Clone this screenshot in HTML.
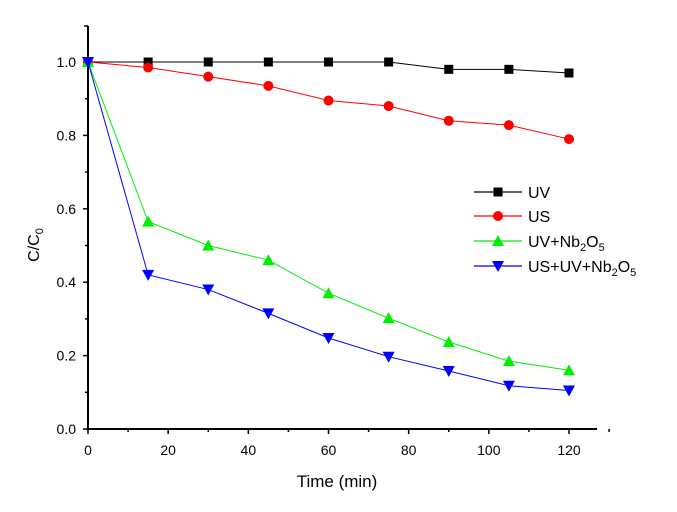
<!DOCTYPE html>
<html><head><meta charset="utf-8"><style>body{margin:0;background:#fff}svg{display:block;font-family:"Liberation Sans",Arial,sans-serif}</style></head>
<body>
<svg id="chart" width="677" height="512" xmlns="http://www.w3.org/2000/svg"></svg>
<script>
const times=[0,15,30,45,60,75,90,105,120];
const uv=[1,1,1,1,1,1,0.98,0.98,0.97];
const us=[1,0.985,0.96,0.935,0.895,0.88,0.84,0.828,0.79];
const uvNb=[1,0.565,0.5,0.46,0.37,0.302,0.237,0.185,0.16];
const usUvNb=[1,0.42,0.38,0.315,0.248,0.197,0.158,0.118,0.105];
const xTicks=[0,20,40,60,80,100,120];
const yTicks=[0,0.2,0.4,0.6,0.8,1.0];
const svg=document.getElementById('chart');
const NS='http://www.w3.org/2000/svg';
const X=v=>88+v*(569-88)/120;
const Y=v=>429-v*367;
function mk(t,a,p){const e=document.createElementNS(NS,t);for(const k in a)e.setAttribute(k,a[k]);(p||svg).appendChild(e);return e;}
// axes
let ax=mk('line',{x1:88,y1:26,x2:88,y2:430,stroke:'#000','stroke-width':2});


ax=mk('line',{x1:87,y1:429,x2:597,y2:429,stroke:'#000','stroke-width':2});


for(let v=0;v<=130;v+=10){mk('line',{x1:X(v),y1:429,x2:X(v),y2:v%20==0?434:432,stroke:'#000','stroke-width':1.5});}
for(let i=0;i<=10;i++){const v=i/10;mk('line',{x1:88,y1:Y(v),x2:i%2==0?83:85,y2:Y(v),stroke:'#000','stroke-width':1.5});}
mk('line',{x1:88,y1:26,x2:84,y2:26,stroke:'#000','stroke-width':1.5});
xTicks.forEach(v=>{const t=mk('text',{x:X(v),y:455,'font-size':14,'text-anchor':'middle'});t.textContent=v;

});
yTicks.forEach(v=>{const t=mk('text',{x:76,y:Y(v)+5,'font-size':14,'text-anchor':'end'});t.textContent=v.toFixed(1);

});
let t=mk('text',{x:337,y:487,'font-size':17,'text-anchor':'middle'});t.textContent='Time (min)';


t=mk('text',{x:0,y:0,'font-size':16,'text-anchor':'middle',transform:'translate(39,245) rotate(-90)'});
t.innerHTML='C/C<tspan font-size="11" dy="4">0</tspan>';


function marker(type,cx,cy,c,g){
 if(type=='sq')mk('rect',{x:cx-4.5,y:cy-4.5,width:9,height:9,fill:c},g);
 else if(type=='ci')mk('circle',{cx:cx,cy:cy,r:5,fill:c},g);
 else if(type=='up')mk('polygon',{points:`${cx-6},${cy+5} ${cx+6},${cy+5} ${cx},${cy-6}`,fill:c},g);
 else mk('polygon',{points:`${cx-6},${cy-5} ${cx+6},${cy-5} ${cx},${cy+6}`,fill:c},g);
}
const series=[['uv',uv,'#000','sq','UV'],['us',us,'#f00','ci','US'],['uv-nb2o5',uvNb,'#0e0','up','UV+Nb<tspan font-size="11" dy="4">2</tspan><tspan dy="-4">O</tspan><tspan font-size="11" dy="4">5</tspan>'],['us-uv-nb2o5',usUvNb,'#00f','dn','US+UV+Nb<tspan font-size="11" dy="4">2</tspan><tspan dy="-4">O</tspan><tspan font-size="11" dy="4">5</tspan>']];
const ly=[192,216,241,266];
series.forEach((s,i)=>{
 const g=mk('g',{});
 
 
 mk('polyline',{points:times.map((x,j)=>X(x)+','+Y(s[1][j])).join(' '),fill:'none',stroke:s[2],'stroke-width':1},g);
 times.forEach((x,j)=>marker(s[3],X(x),Y(s[1][j]),s[2],g));
 const lg=mk('g',{});
 
 
 mk('line',{x1:474,y1:ly[i],x2:522,y2:ly[i],stroke:s[2],'stroke-width':1.2},lg);
 marker(s[3],498,ly[i],s[2],lg);
 const tt=mk('text',{x:528,y:ly[i]+6,'font-size':16},lg);tt.innerHTML=s[4];
});
</script>
</body></html>
